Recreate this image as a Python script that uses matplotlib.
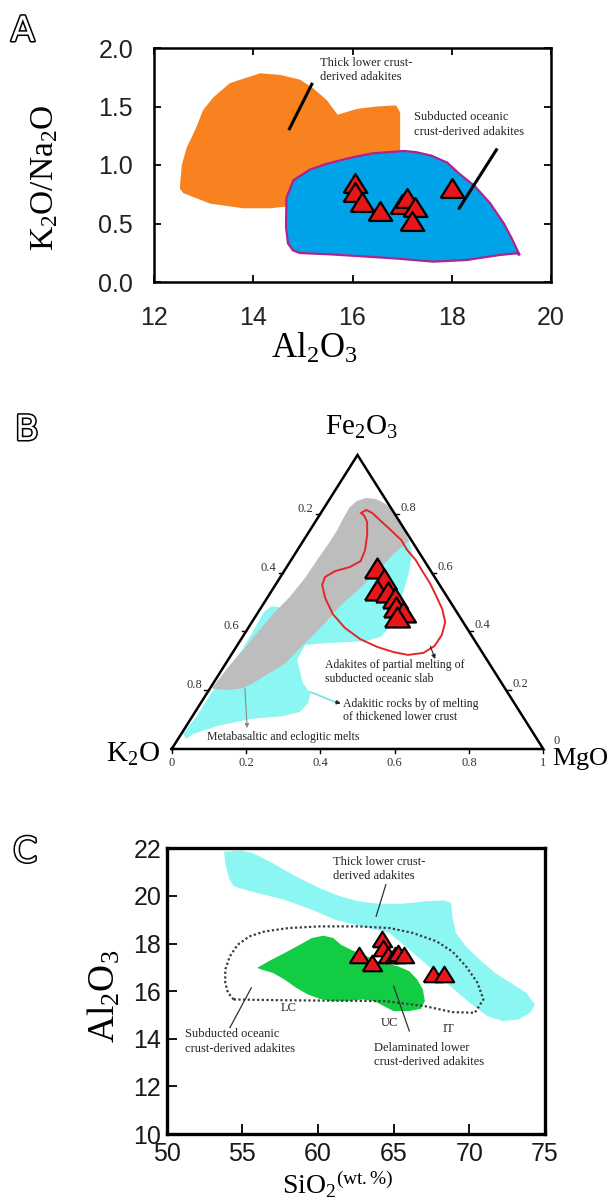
import numpy as np
import matplotlib.pyplot as plt
import matplotlib.patheffects as pe

W, H = 611, 1200
plt.rcParams['font.family'] = ['Liberation Sans', 'DejaVu Sans']
plt.rcParams['mathtext.fontset'] = 'custom'
plt.rcParams['mathtext.rm'] = 'Liberation Serif'
plt.rcParams['mathtext.it'] = 'Liberation Serif:italic'
plt.rcParams['mathtext.bf'] = 'Liberation Serif:bold'

SERIF = 'Liberation Serif'
RED = '#e8161b'

# ---------------- A: K2O/Na2O vs Al2O3 ----------------
a_thick_al2o3 = [12.52, 12.56, 12.66, 12.73, 12.86, 12.99, 13.20, 13.53, 14.14, 14.54, 14.94,
                 15.21, 15.48, 15.70, 16.10, 16.49, 16.88, 16.96, 16.96, 16.00, 14.67, 14.34,
                 13.80, 13.13, 12.59]
a_thick_ratio = [0.80, 1.00, 1.15, 1.21, 1.33, 1.47, 1.58, 1.70, 1.784, 1.77, 1.73,
                 1.655, 1.555, 1.43, 1.48, 1.50, 1.51, 1.45, 1.12, 0.90, 0.645, 0.63,
                 0.63, 0.67, 0.76]
a_slab_al2o3 = [14.67, 14.81, 15.14, 15.48, 15.94, 16.41, 17.04, 17.28, 17.59, 17.91, 18.14,
                18.46, 18.77, 19.05, 19.20, 19.37, 19.31, 18.97, 18.30, 17.63, 16.90, 16.29,
                15.60, 14.94, 14.80, 14.70, 14.66]
a_slab_ratio = [0.72, 0.87, 0.96, 1.01, 1.06, 1.10, 1.12, 1.11, 1.08, 1.02, 0.93,
                0.82, 0.675, 0.50, 0.38, 0.23, 0.245, 0.231, 0.188, 0.174, 0.20, 0.217,
                0.235, 0.248, 0.27, 0.33, 0.47]
a_samples_al2o3 = [16.05, 16.05, 16.20, 16.55, 17.00, 17.10, 17.25, 17.20, 18.00]
a_samples_ratio = [0.85, 0.77, 0.68, 0.61, 0.67, 0.72, 0.64, 0.52, 0.80]
a_xticks = [12, 14, 16, 18, 20]
a_yticks = [0.0, 0.5, 1.0, 1.5, 2.0]

# ---------------- B: K2O - MgO - Fe2O3 ternary (fractions) ----------------
b_gray_mgo = [0.069, 0.068, 0.077, 0.096, 0.125, 0.160, 0.195, 0.228, 0.262, 0.285, 0.264,
              0.251, 0.231, 0.211, 0.199, 0.186, 0.172, 0.160, 0.131, 0.107, 0.088, 0.052,
              0.015, 0.004, 0.008, 0.014, 0.024, 0.033, 0.044, 0.059, 0.068, 0.070, 0.073,
              0.073]
b_gray_fe2o3 = [0.789, 0.823, 0.844, 0.854, 0.850, 0.833, 0.806, 0.769, 0.735, 0.707, 0.663,
                0.602, 0.541, 0.490, 0.432, 0.384, 0.337, 0.289, 0.255, 0.224, 0.207, 0.201,
                0.204, 0.207, 0.235, 0.286, 0.337, 0.398, 0.463, 0.517, 0.582, 0.643, 0.701,
                0.745]
b_cyan_mgo = [0.283, 0.313, 0.339, 0.357, 0.375, 0.380, 0.371, 0.339, 0.298, 0.246, 0.182,
              0.186, 0.241, 0.278, 0.289, 0.282, 0.244, 0.160, 0.083, 0.032, 0.021, 0.003,
              0.012, 0.011, 0.013, 0.016, 0.021, 0.019, 0.015, 0.027, 0.057, 0.075, 0.132,
              0.213]
b_cyan_fe2o3 = [0.711, 0.667, 0.599, 0.531, 0.463, 0.415, 0.381, 0.367, 0.364, 0.361, 0.354,
                0.303, 0.224, 0.190, 0.156, 0.126, 0.112, 0.102, 0.078, 0.051, 0.034, 0.054,
                0.112, 0.173, 0.235, 0.293, 0.337, 0.395, 0.466, 0.486, 0.480, 0.541, 0.643,
                0.694]
b_slab_mgo = [0.108, 0.117, 0.138, 0.180, 0.222, 0.262, 0.295, 0.335, 0.372, 0.412, 0.452,
              0.490, 0.520, 0.533, 0.532, 0.514, 0.476, 0.431, 0.380, 0.320, 0.260, 0.204,
              0.156, 0.126, 0.120, 0.137, 0.170, 0.189, 0.182, 0.162, 0.140, 0.122]
b_slab_fe2o3 = [0.803, 0.813, 0.803, 0.772, 0.741, 0.711, 0.677, 0.643, 0.605, 0.565, 0.520,
                0.476, 0.432, 0.388, 0.350, 0.327, 0.320, 0.330, 0.347, 0.374, 0.412, 0.459,
                0.514, 0.558, 0.585, 0.605, 0.619, 0.639, 0.677, 0.728, 0.772, 0.793]
b_samples_mgo = [0.244, 0.282, 0.282, 0.315, 0.344, 0.363, 0.389, 0.382]
b_samples_fe2o3 = [0.616, 0.578, 0.541, 0.534, 0.514, 0.483, 0.466, 0.449]
b_ticks = [0, 0.2, 0.4, 0.6, 0.8, 1]

# ---------------- C: Al2O3 vs SiO2 ----------------
c_thick_sio2 = [53.79, 54.95, 55.72, 57.01, 58.56, 60.10, 61.39, 62.68, 63.97, 65.52, 67.06,
                68.35, 68.81, 68.87, 69.12, 69.77, 70.67, 71.70, 72.73, 73.76, 74.33, 74.02,
                73.25, 72.22, 71.19, 70.03, 68.74, 67.58, 66.29, 64.74, 62.94, 61.13, 59.59,
                57.78, 55.98, 54.43, 54.12, 53.87]
c_thick_al2o3 = [21.86, 21.90, 21.79, 21.37, 20.81, 20.33, 20.00, 19.77, 19.67, 19.67, 19.77,
                 19.81, 19.70, 19.14, 18.44, 17.88, 17.33, 16.77, 16.35, 15.93, 15.44, 15.09,
                 14.81, 14.74, 14.95, 15.51, 16.21, 16.91, 17.60, 18.44, 18.72, 19.00, 19.42,
                 19.84, 20.12, 20.40, 20.74, 21.37]
c_delam_sio2 = [55.98, 56.75, 57.78, 58.81, 59.59, 60.36, 61.01, 61.52, 62.17, 63.20, 64.23,
                65.26, 66.03, 66.55, 66.93, 67.06, 66.80, 66.03, 65.00, 64.36, 63.71, 62.94,
                61.91, 60.88, 60.10, 59.33, 58.56, 57.78, 57.01, 56.24]
c_delam_al2o3 = [16.98, 17.26, 17.60, 17.95, 18.23, 18.33, 18.23, 17.95, 17.74, 17.47, 17.19,
                 17.05, 16.84, 16.49, 16.07, 15.58, 15.26, 15.16, 15.16, 15.37, 15.58, 15.65,
                 15.58, 15.58, 15.68, 15.86, 16.14, 16.49, 16.77, 16.91]
c_slab_sio2 = [54.43, 57.50, 61.00, 64.50, 67.06, 68.87, 70.36, 70.93, 70.54, 69.77, 68.87,
               67.84, 66.29, 64.74, 62.68, 60.10, 58.04, 56.49, 55.46, 54.69, 54.18, 53.87,
               53.87, 54.05, 54.43]
c_slab_al2o3 = [15.65, 15.62, 15.60, 15.58, 15.37, 15.12, 15.09, 15.65, 16.35, 17.05, 17.67,
                18.09, 18.44, 18.65, 18.72, 18.72, 18.65, 18.51, 18.30, 17.95, 17.47, 16.91,
                16.35, 15.93, 15.65]
c_samples_sio2 = [62.7, 63.6, 64.2, 64.3, 64.6, 65.1, 65.3, 65.7, 67.6, 68.3]
c_samples_al2o3 = [17.5, 17.2, 18.2, 17.8, 17.5, 17.5, 17.6, 17.5, 16.7, 16.7]
c_xticks = [50, 55, 60, 65, 70, 75]
c_yticks = [10, 12, 14, 16, 18, 20, 22]

fig = plt.figure(figsize=(W / 100, H / 100), dpi=100)


def add_axes_px(left, top, right, bottom):
    return fig.add_axes([left / W, 1 - bottom / H, (right - left) / W, (bottom - top) / H])


def panel_letter(letter, x, y):
    fig.text(x / W, 1 - y / H, letter, fontsize=25, color='white', family='DejaVu Sans',
             ha='left', va='center',
             path_effects=[pe.withStroke(linewidth=2.2, foreground='black')])


def tern_xy(mgo, fe2o3):
    mgo = np.asarray(mgo, dtype=float)
    fe2o3 = np.asarray(fe2o3, dtype=float)
    return mgo + fe2o3 / 2, fe2o3


# triangle marker, a bit wider than tall
tri = [(-1, -0.8), (1, -0.8), (0, 0.8), (-1, -0.8)]
note = dict(family=SERIF, fontsize=9, color='#222222', linespacing=1.25)

# ---- panel A ----
ax = add_axes_px(154, 48, 551, 282)
ax.fill(a_thick_al2o3, a_thick_ratio, color='#f7821f', lw=0)
ax.fill(a_slab_al2o3, a_slab_ratio, facecolor='#00a3e8', edgecolor='#b0228f', lw=1.6)
ax.plot(a_samples_al2o3, a_samples_ratio, ls='none', marker=tri, ms=17,
        mfc=RED, mec='black', mew=1.6)
ax.plot([15.18, 14.73], [1.69, 1.31], color='black', lw=2.2)
ax.plot([18.90, 18.15], [1.13, 0.63], color='black', lw=2.2)
ax.text(15.35, 1.81, 'Thick lower crust-\nderived adakites', va='center', **note)
ax.text(17.24, 1.347, 'Subducted oceanic\ncrust-derived adakites', va='center', **note)
ax.set_xlim(12, 20)
ax.set_ylim(0, 2)
ax.set_xticks(a_xticks)
ax.set_yticks(a_yticks)
ax.yaxis.set_major_formatter('{x:.1f}')
ax.tick_params(direction='in', top=True, right=True, length=5, width=1.3,
               labelsize=18, labelcolor='#222222')
ax.tick_params(axis='x', pad=17)
ax.tick_params(axis='y', pad=15)
for s in ax.spines.values():
    s.set_linewidth(1.8)
fig.text(45 / W, 1 - 178 / H, r'$\mathrm{K_2O/Na_2O}$', rotation=90, fontsize=24,
         ha='center', va='center')
fig.text(314 / W, 1 - 358 / H, r'$\mathrm{Al_2O_3}$', fontsize=25, ha='center', va='baseline')
panel_letter('A', 11, 31)

# ---- panel B ----
axb = add_axes_px(171.7, 455, 543.3, 749)
axb.set_xlim(0, 1)
axb.set_ylim(0, 1)
axb.axis('off')
axb.fill(*tern_xy(b_cyan_mgo, b_cyan_fe2o3), color='#8cf6f2', lw=0)
axb.fill(*tern_xy(b_gray_mgo, b_gray_fe2o3), color='#bdbdbd', lw=0)
sx, sy = tern_xy(b_slab_mgo, b_slab_fe2o3)
axb.fill(sx, sy, facecolor='none', edgecolor='#e3262a', lw=1.4)
axb.plot(*tern_xy(b_samples_mgo, b_samples_fe2o3), ls='none', marker=tri, ms=18,
         mfc=RED, mec='black', mew=1.6)
axb.plot([0, 1, 0.5, 0], [0, 0, 1, 0], color='black', lw=1.8, clip_on=False,
         solid_joinstyle='miter')

tick_kw = dict(family=SERIF, fontsize=9, color='#333333', textcoords='offset pixels')
for k in b_ticks[1:-1]:
    x, y = tern_xy(0.0, 1 - k)
    axb.plot([x - 0.012, x], [y, y], color='black', lw=1, clip_on=False)
    axb.annotate(f'{k:g}', (x, y), xytext=(-7, 5), ha='right', va='center', **tick_kw)
for fv in b_ticks[1:-1]:
    x, y = tern_xy(1 - fv, fv)
    axb.plot([x, x + 0.012], [y, y], color='black', lw=1, clip_on=False)
    axb.annotate(f'{fv:g}', (x, y), xytext=(6, 6), ha='left', va='center', **tick_kw)
for m in b_ticks:
    x, y = tern_xy(m, 0.0)
    axb.plot([x, x], [0, -0.012], color='black', lw=1, clip_on=False)
    axb.annotate(f'{m:g}', (x, y), xytext=(0, -14), ha='center', va='center', **tick_kw)
axb.annotate('0', (1, 0), xytext=(13, 8), ha='center', va='center', **tick_kw)

corner_kw = dict(fontsize=21, textcoords='offset pixels', va='baseline')
axb.annotate(r'$\mathrm{Fe_2O_3}$', (0.5, 1), xytext=(4, 20), ha='center', **corner_kw)
axb.annotate(r'$\mathrm{K_2O}$', (0, 0), xytext=(-12, -13), ha='right', **corner_kw)
axb.annotate(r'$\mathrm{MgO}$', (1, 0), xytext=(9, -16), ha='left',
             **dict(corner_kw, fontsize=19))

bnote = dict(family=SERIF, fontsize=8.5, color='#222222', linespacing=1.15)
axb.text(0.413, 0.262, 'Adakites of partial melting of\nsubducted oceanic slab',
         va='center', ha='left', **bnote)
axb.text(0.461, 0.131, 'Adakitic rocks by of melting\nof thickened lower crust',
         va='center', ha='left', **bnote)
axb.text(0.0955, 0.041, 'Metabasaltic and eclogitic melts', va='center', ha='left', **bnote)
arrow = dict(arrowstyle='-|>', lw=0.8, mutation_scale=6, color='#222222',
             shrinkA=0, shrinkB=0)
axb.annotate('', xy=(0.709, 0.306), xytext=(0.696, 0.350), arrowprops=arrow)
axb.plot([0.373, 0.440], [0.194, 0.160], color='#6fe3e0', lw=1.2)
axb.annotate('', xy=(0.455, 0.155), xytext=(0.440, 0.160), arrowprops=arrow)
axb.annotate('', xy=(0.203, 0.071), xytext=(0.197, 0.207),
             arrowprops=dict(arrow, color='#8a8a8a'))
panel_letter('B', 15, 430)

# ---- panel C ----
axc = add_axes_px(166.7, 848.3, 545, 1134)
axc.fill(c_thick_sio2, c_thick_al2o3, color='#8cf6f2', lw=0)
axc.fill(c_delam_sio2, c_delam_al2o3, color='#12cc44', lw=0)
axc.plot(c_slab_sio2, c_slab_al2o3, color='#3a3a3a', lw=1.6, ls=(0, (1, 1.1)))
axc.plot(c_samples_sio2, c_samples_al2o3, ls='none', marker=tri, ms=14,
         mfc=RED, mec='black', mew=1.5)
axc.plot([64.48, 63.84], [20.47, 19.14], color='#333333', lw=0.9)
axc.plot([55.59, 54.18], [16.14, 14.47], color='#333333', lw=0.9)
axc.plot([65.00, 66.03], [16.21, 14.33], color='#333333', lw=0.9)
axc.text(61.0, 21.12, 'Thick lower crust-\nderived adakites', va='center', **note)
axc.text(51.21, 13.88, 'Subducted oceanic\ncrust-derived adakites', va='center', **note)
axc.text(63.71, 13.32, 'Delaminated lower\ncrust-derived adakites', va='center', **note)
axc.text(58.04, 15.30, 'LC', ha='center', va='center', **note)
axc.text(64.74, 14.67, 'UC', ha='center', va='center', **note)
axc.text(68.61, 14.40, 'IT', ha='center', va='center', **note)
axc.set_xlim(50, 75)
axc.set_ylim(10, 22)
axc.set_xticks(c_xticks)
axc.set_yticks(c_yticks)
axc.tick_params(direction='in', length=7, width=1.3, labelsize=18, labelcolor='#1a1a1a')
axc.tick_params(axis='x', pad=6)
axc.tick_params(axis='y', pad=4)
for s in axc.spines.values():
    s.set_linewidth(2.4)
fig.text(104 / W, 1 - 996 / H, r'$\mathrm{Al_2O_3}$', rotation=90, fontsize=27,
         ha='center', va='center')
fig.text(338 / W, 1 - 1193 / H, r'$\mathrm{SiO_2}^{\mathrm{(wt.\%)}}$', fontsize=20,
         ha='center', va='baseline')
panel_letter('C', 13, 852)

fig.savefig('out.png', dpi=100)
